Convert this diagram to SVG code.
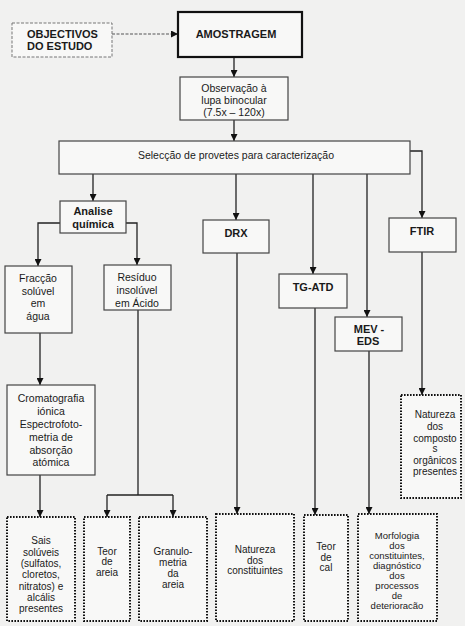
<svg xmlns="http://www.w3.org/2000/svg" width="465" height="626" viewBox="0 0 465 626">
<defs>
<marker id="ah" viewBox="0 0 8 8" refX="8" refY="4" markerWidth="7" markerHeight="7" markerUnits="userSpaceOnUse" orient="auto">
<path d="M0,0 L8,4 L0,8 z" fill="#111"/>
</marker>
<style>
text{font-family:"Liberation Sans",Arial,sans-serif;fill:#1a1a1a;text-anchor:middle}
.t{font-size:10.5px}
.s{font-size:10px}
.m{font-size:9.5px}
.b{font-size:11px;font-weight:bold}
.l{text-anchor:start}
.box{fill:#f8f8f7;stroke:#444;stroke-width:1.2}
.thick{fill:#f8f8f7;stroke:#111;stroke-width:2.2}
.dash{fill:#f8f8f7;stroke:#777;stroke-width:1;stroke-dasharray:3 1.5}
.dot{fill:#f8f8f7;stroke:#111;stroke-width:2;stroke-dasharray:1.6 1.4}
.c{fill:none;stroke:#222;stroke-width:1.3}
.cd{fill:none;stroke:#555;stroke-width:1.2;stroke-dasharray:3 1.5}
</style>
</defs>
<rect width="465" height="626" fill="#f1f1f0"/>
<g id="connectors">
<path class="cd" d="M112,34 H178" marker-end="url(#ah)"/>
<path class="c" d="M234,57 V77" marker-end="url(#ah)"/>
<path class="c" d="M234,120 V141" marker-end="url(#ah)"/>
<path class="c" d="M93,174 V201" marker-end="url(#ah)"/>
<path class="c" d="M236,174 V220" marker-end="url(#ah)"/>
<path class="c" d="M313,174 V274" marker-end="url(#ah)"/>
<path class="c" d="M367,174 V317" marker-end="url(#ah)"/>
<path class="c" d="M410,151 H422 V218" marker-end="url(#ah)"/>
<path class="c" d="M60,223 H38 V266" marker-end="url(#ah)"/>
<path class="c" d="M126,223 H137 V265" marker-end="url(#ah)"/>
<path class="c" d="M40,333 V385" marker-end="url(#ah)"/>
<path class="c" d="M138,310 V495"/>
<path class="c" d="M107,495 H173"/>
<path class="c" d="M107,495 V517" marker-end="url(#ah)"/>
<path class="c" d="M173,495 V517" marker-end="url(#ah)"/>
<path class="c" d="M40,475 V517" marker-end="url(#ah)"/>
<path class="c" d="M237,253 V514" marker-end="url(#ah)"/>
<path class="c" d="M315,308 V515" marker-end="url(#ah)"/>
<path class="c" d="M369,351 V514" marker-end="url(#ah)"/>
<path class="c" d="M422,252 V395" marker-end="url(#ah)"/>
</g>
<g id="objectivos"><rect class="dash" x="12" y="23" width="100" height="34"/>
<text class="b l" x="27" y="38">OBJECTIVOS</text><text class="b l" x="27" y="50">DO ESTUDO</text></g>
<g id="amostragem"><rect class="thick" x="178" y="12" width="124" height="45"/>
<text class="b" x="236" y="38">AMOSTRAGEM</text></g>
<g id="observacao"><rect class="box" x="180" y="77" width="108" height="43"/>
<text class="t" x="234" y="92">Observação à</text><text class="t" x="234" y="104">lupa binocular</text><text class="t" x="234" y="115.5">(7.5x – 120x)</text></g>
<g id="seleccao"><rect class="box" x="59" y="141" width="351" height="33"/>
<text class="t" x="236" y="159">Selecção de provetes para caracterização</text></g>
<g id="analise"><rect class="box" x="60" y="201" width="66" height="32"/>
<text class="b" x="93" y="215">Analise</text><text class="b" x="93" y="228">química</text></g>
<g id="fraccao"><rect class="box" x="5" y="266" width="67" height="67"/>
<text class="t" x="38" y="282">Fracção</text><text class="t" x="38" y="295">solúvel</text><text class="t" x="38" y="307">em</text><text class="t" x="38" y="320">água</text></g>
<g id="residuo"><rect class="box" x="104" y="265" width="67" height="45"/>
<text class="t" x="137" y="281">Resíduo</text><text class="t" x="137" y="294">insolúvel</text><text class="t" x="137" y="307">em Ácido</text></g>
<g id="cromatografia"><rect class="box" x="7" y="385" width="88" height="90"/>
<text class="t" x="51" y="402">Cromatografia</text><text class="t" x="51" y="415">iónica</text><text class="t" x="51" y="428">Espectrofoto-</text><text class="t" x="51" y="441">metria de</text><text class="t" x="51" y="454">absorção</text><text class="t" x="51" y="466">atómica</text></g>
<g id="drx"><rect class="box" x="203" y="220" width="66" height="33"/>
<text class="b" x="236" y="237">DRX</text></g>
<g id="tgatd"><rect class="box" x="279" y="274" width="68" height="34"/>
<text class="b" x="313" y="291">TG-ATD</text></g>
<g id="mev"><rect class="box" x="335" y="317" width="67" height="34"/>
<text class="b" x="369" y="333">MEV -</text><text class="b" x="368" y="345">EDS</text></g>
<g id="ftir"><rect class="box" x="389" y="218" width="67" height="34"/>
<text class="b" x="422" y="235">FTIR</text></g>
<g id="sais"><rect class="dot" x="7" y="517" width="68" height="104"/>
<text class="s" x="41" y="544">Sais</text><text class="s" x="41" y="555.5">solúveis</text><text class="s" x="41" y="567">(sulfatos,</text><text class="s" x="41" y="578">cloretos,</text><text class="s" x="41" y="589.5">nitratos) e</text><text class="s" x="41" y="601">alcális</text><text class="s" x="41" y="612">presentes</text></g>
<g id="teor-areia"><rect class="dot" x="84" y="517" width="46" height="104"/>
<text class="s" x="107" y="555">Teor</text><text class="s" x="107" y="565">de</text><text class="s" x="107" y="575.5">areia</text></g>
<g id="granulometria"><rect class="dot" x="139" y="517" width="68" height="104"/>
<text class="s" x="173" y="555">Granulo-</text><text class="s" x="173" y="565.5">metria</text><text class="s" x="173" y="576.5">da</text><text class="s" x="173" y="587.5">areia</text></g>
<g id="natureza-constituintes"><rect class="dot" x="216" y="514" width="78" height="107"/>
<text class="s" x="255" y="553">Natureza</text><text class="s" x="255" y="563.5">dos</text><text class="s" x="255" y="574">constituintes</text></g>
<g id="teor-cal"><rect class="dot" x="304" y="515" width="44" height="106"/>
<text class="s" x="326" y="550">Teor</text><text class="s" x="326" y="560.5">de</text><text class="s" x="326" y="571">cal</text></g>
<g id="morfologia"><rect class="dot" x="358" y="514" width="79" height="107"/>
<text class="m" x="397" y="539">Morfologia</text><text class="m" x="397" y="549">dos</text><text class="m" x="397" y="559">constituintes,</text><text class="m" x="397" y="569">diagnóstico</text><text class="m" x="397" y="579">dos</text><text class="m" x="397" y="589">processos</text><text class="m" x="397" y="599">de</text><text class="m" x="397" y="609">deterioracão</text></g>
<g id="natureza-organicos"><rect class="dot" x="401" y="395" width="60" height="103"/>
<text class="s" x="435" y="418">Natureza</text><text class="s" x="435" y="430">dos</text><text class="s" x="435" y="441.5">composto</text><text class="s" x="435" y="452">s</text><text class="s" x="435" y="463.5">orgânicos</text><text class="s" x="435" y="474.5">presentes</text></g>
</svg>
